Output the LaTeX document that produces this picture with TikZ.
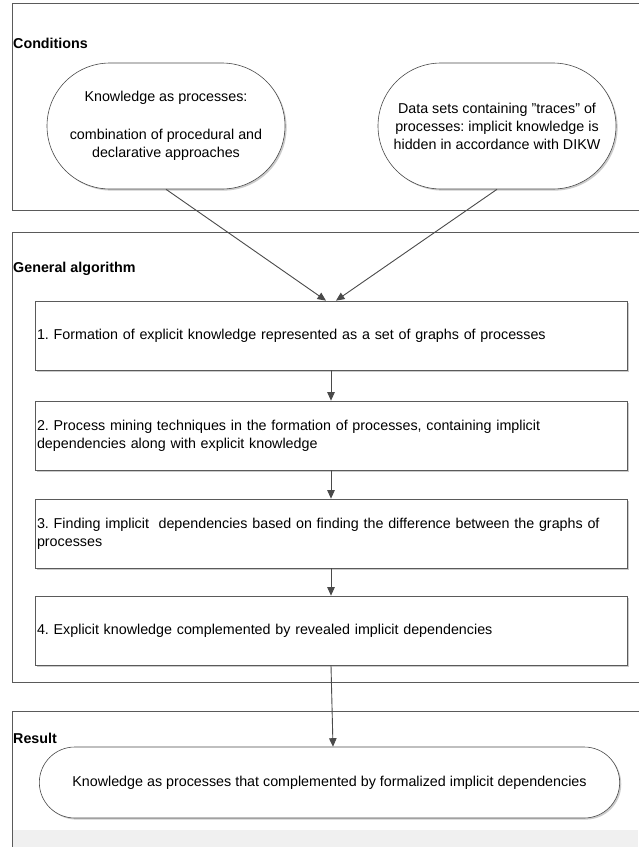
\documentclass[tikz,border=0pt]{standalone}
\usepackage{fontspec}
\setmainfont{Liberation Sans}
\frenchspacing
\usetikzlibrary{arrows.meta,shapes.misc,shadows,calc}
\definecolor{linegray}{HTML}{4A4A4A}
\definecolor{framegray}{HTML}{5A5A5A}
\newcommand{\sq}{\char34\relax}% straight double quote
\begin{document}
\begin{tikzpicture}[x=1pt,y=-1pt,
  every node/.style={font=\fontsize{14.3}{18}\selectfont},
  section/.style={draw=framegray,line width=0.8pt},
  sectiontitle/.style={anchor=base west,inner sep=0pt,font=\fontsize{14.3}{18}\selectfont\bfseries},
  softshadow/.style={drop shadow={shadow xshift=1.6pt,shadow yshift=-1.6pt,fill=black!45,opacity=0.45}},
  stepbox/.style={draw=framegray,fill=white,line width=0.7pt,softshadow,
    minimum width=592pt,minimum height=69pt,text width=588pt,align=left,inner xsep=2pt},
  bubble/.style={draw=linegray,fill=white,line width=0.6pt,softshadow,
    rounded rectangle,rounded rectangle arc length=180,minimum width=238pt,minimum height=126pt,
    align=center,inner sep=0pt},
  flow/.style={draw=linegray,line width=0.9pt,-{Triangle[length=8.5pt,width=7.5pt]}}]
\useasboundingbox (0,0) rectangle (638,847);
\fill[white] (0,0) rectangle (638,847);

% section frames (open to the right)
\draw[section] (645,3) -- (12,3) -- (12,210) -- (645,210);
\draw[section] (645,232) -- (12,232) -- (12,682) -- (645,682);
\fill[black!6] (12.4,830) rectangle (638,847);
\draw[section] (645,711) -- (12,711) -- (12,860);

\node[sectiontitle] (tcond) at (13,48) {Conditions};
\node[sectiontitle] (talg) at (13,272) {General algorithm};
\node[sectiontitle] (tres) at (13,743) {Result};

% conditions
\node[bubble] (c1) at (166,126) {Knowledge as processes:\\[20pt]combination of procedural and\\declarative approaches};
\node[bubble] (c2) at (497,126) {Data sets containing \sq traces\sq{} of\\processes: implicit knowledge is\\hidden in accordance with DIKW};

% algorithm steps
\node[stepbox] (s1) at (331,335.5) {1. Formation of explicit knowledge represented as a set of graphs of processes};
\node[stepbox] (s2) at (331,435.5) {2. Process mining techniques in the formation of processes, containing implicit\\dependencies along with explicit knowledge};
\node[stepbox] (s3) at (331,533.5) {3. Finding implicit\ \ dependencies based on finding the difference between the graphs of\\processes};
\node[stepbox] (s4) at (331,630.5) {4. Explicit knowledge complemented by revealed implicit dependencies};

% result
\node[draw=linegray,fill=white,line width=0.6pt,softshadow,rounded rectangle,rounded rectangle arc length=180,
  minimum width=587pt,minimum height=71pt] (r) at (329.5,782.5)
  {Knowledge as processes that complemented by formalized implicit dependencies};

% connectors
\coordinate (in1) at ($(s1.north)+(-5,0)$);
\coordinate (in2) at ($(s1.north)+(5,0)$);
\coordinate (rin) at ($(r.north)+(3.5,0)$);
\draw[flow] (c1.south) -- (in1);
\draw[flow] (c2.south) -- (in2);
\draw[flow] (s1.south) -- (s2.north);
\draw[flow] (s2.south) -- (s3.north);
\draw[flow] (s3.south) -- (s4.north);
\draw[flow] (s4.south) -- (rin);
\end{tikzpicture}
\end{document}
